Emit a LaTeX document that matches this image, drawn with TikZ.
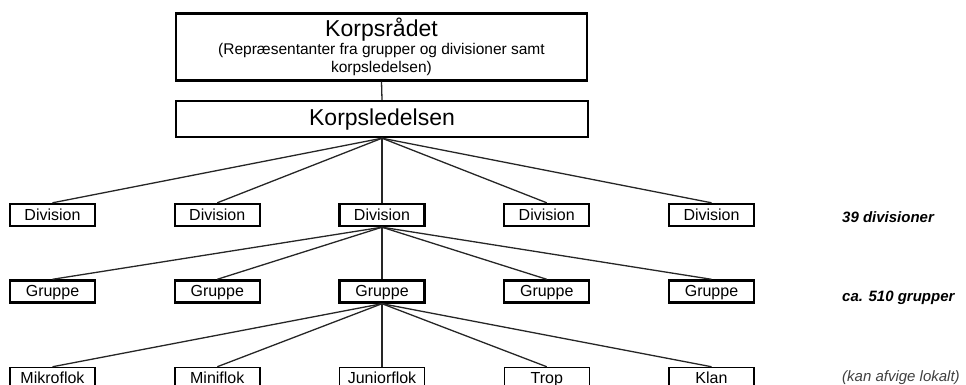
\documentclass[tikz,border=0pt]{standalone}
\usepackage{fontspec}
\setmainfont{Liberation Sans}
\usetikzlibrary{trees}
\usetikzlibrary{positioning}

\begin{document}
\begin{tikzpicture}[
  x=1pt, y=-1pt,
  level 1/.style={level distance=96pt, sibling distance=164.75pt},
  level 2/.style={level distance=76.5pt, sibling distance=164.75pt},
  level 3/.style={level distance=87pt, sibling distance=164.75pt},
  edge from parent path={(\tikzparentnode.south) -- (\tikzchildnode.north)},
  edge from parent/.style={draw, line width=1.3pt, black!85},
  font=\fontsize{16}{19}\selectfont
]
\tikzset{
    orgbox/.style = {rectangle, draw=black, line width=2.4pt, inner sep=0pt, minimum width=85pt, minimum height=22pt, text height=13pt, text depth=3pt},
    unitbox/.style = {orgbox, line width=1.5pt},
    headbox/.style = {orgbox, minimum width=412pt, minimum height=36pt, text height=17.5pt, text depth=3.5pt, font=\fontsize{23}{27}\selectfont},
    notestyle/.style = {anchor=base west, inner sep=0pt, font=\fontsize{15}{18}\selectfont\bfseries\itshape}
}
\useasboundingbox (0,0) rectangle (966,385);

\node[orgbox, minimum width=411pt, minimum height=67pt, align=center, text height=, text depth=,
      font=\fontsize{15.5}{18}\selectfont] (raad) at (381.5,47)
  {{\fontsize{23}{26}\selectfont Korpsrådet}\\[0pt]
   (Repræsentanter fra grupper og divisioner samt\\korpsledelsen)};

\node[headbox] (ledelse) at (382,119) {Korpsledelsen}
  child { node[orgbox] (div1) {Division} }
  child { node[orgbox] (div2) {Division} }
  child { node[orgbox] (div3) {Division}
    child { node[orgbox] (grp1) {Gruppe} }
    child { node[orgbox] (grp2) {Gruppe} }
    child { node[orgbox] (grp3) {Gruppe}
      child { node[unitbox] (mikro) {Mikroflok} }
      child { node[unitbox] (mini) {Miniflok} }
      child { node[unitbox] (junior) {Juniorflok} }
      child { node[unitbox] (trop) {Trop} }
      child { node[unitbox] (klan) {Klan} }
    }
    child { node[orgbox] (grp4) {Gruppe} }
    child { node[orgbox] (grp5) {Gruppe} }
  }
  child { node[orgbox] (div4) {Division} }
  child { node[orgbox] (div5) {Division} }
;
\draw[line width=1.3pt, black!85] (raad.south) -- (ledelse.north);

% antal
\node[notestyle] (antalDiv) at (842,222) {39 divisioner};
\node[notestyle] (antalGrp) at (842,301) {ca. 510 grupper};
\node[notestyle, font=\fontsize{15}{18}\selectfont\itshape, text=black!75] (antalFlok) at (842,381) {(kan afvige lokalt)};
\end{tikzpicture}
\end{document}
